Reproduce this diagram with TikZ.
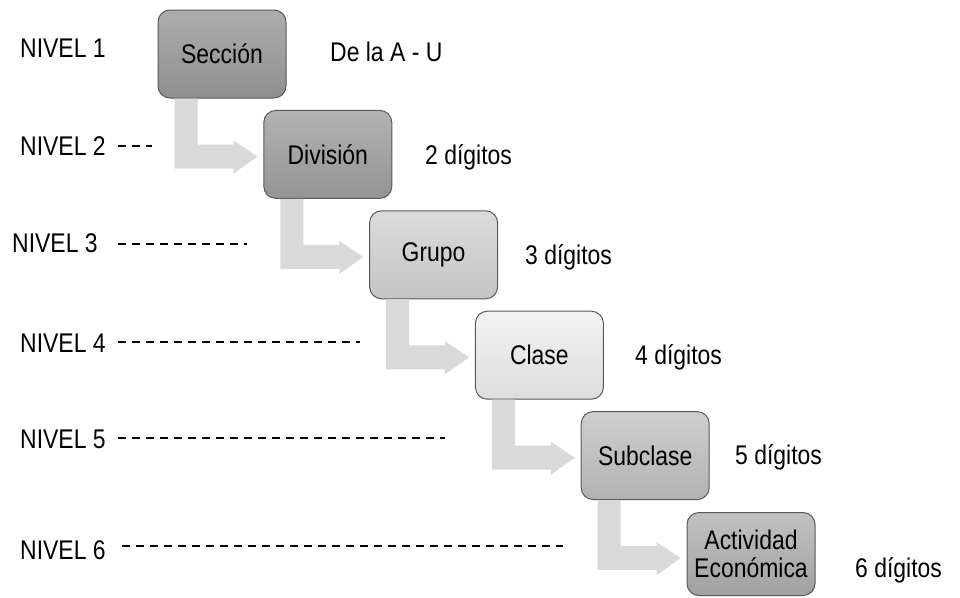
\documentclass[tikz,border=0pt]{standalone}
\usepackage{fontspec}
\setmainfont{Liberation Sans}[FakeStretch=0.85]
\begin{document}
\begin{tikzpicture}[x=1pt,y=-1pt,
  caja/.style={draw=black!65, line width=1pt, rounded corners=12pt, minimum width=128pt, minimum height=88pt, inner sep=0pt, align=center, font=\fontsize{27}{28}\selectfont},
  flecha/.style={fill=black!15},
  etiq/.style={anchor=west, inner sep=0pt, font=\fontsize{27}{28}\selectfont},
  raya/.style={dash pattern=on 8pt off 6pt, line width=1.3pt}]
\useasboundingbox (0,0) rectangle (960,597);
% cajas
\node[caja, top color=black!32, bottom color=black!44] (sec) at (222,54){Sección};
\node[caja, top color=black!30, bottom color=black!42] (div) at (327.8,154.4){División};
\node[caja, top color=black!14, bottom color=black!23] (gru) at (433.6,254.8){Grupo};
\node[caja, top color=black!5, bottom color=black!13] (cla) at (539.4,355.2){Clase};
\node[caja, top color=black!19, bottom color=black!30] (sub) at (645.2,455.6){Subclase};
\node[caja, minimum height=83pt, top color=black!24, bottom color=black!37] (act) at (751,554){Actividad\\Económica};
% flechas
\fill[flecha] ([xshift=17pt]sec.south west) -- ++(23,0) -- ++(0,46) -- ++(36,0) -- ++(0,-4) -- ++(24,16) -- ++(-24,17) -- ++(0,-5) -- ++(-59,0) -- cycle;
\fill[flecha] ([xshift=17pt]div.south west) -- ++(23,0) -- ++(0,46) -- ++(36,0) -- ++(0,-4) -- ++(24,16) -- ++(-24,17) -- ++(0,-5) -- ++(-59,0) -- cycle;
\fill[flecha] ([xshift=17pt]gru.south west) -- ++(23,0) -- ++(0,46) -- ++(36,0) -- ++(0,-4) -- ++(24,16) -- ++(-24,17) -- ++(0,-5) -- ++(-59,0) -- cycle;
\fill[flecha] ([xshift=17pt]cla.south west) -- ++(23,0) -- ++(0,46) -- ++(36,0) -- ++(0,-4) -- ++(24,16) -- ++(-24,17) -- ++(0,-5) -- ++(-59,0) -- cycle;
\fill[flecha] ([xshift=17pt]sub.south west) -- ++(23,0) -- ++(0,46) -- ++(36,0) -- ++(0,-4) -- ++(24,16) -- ++(-24,17) -- ++(0,-5) -- ++(-59,0) -- cycle;
% niveles
\node[etiq] (niv1) at (20,48){NIVEL 1};
\node[etiq] (niv2) at (20,146){NIVEL 2};
\node[etiq] (niv3) at (12,243){NIVEL 3};
\node[etiq] (niv4) at (20,343){NIVEL 4};
\node[etiq] (niv5) at (20,439){NIVEL 5};
\node[etiq] (niv6) at (20,550){NIVEL 6};
\coordinate (ini2) at (118,146);
\coordinate (ini3) at (118,244);
\coordinate (ini4) at (118,342);
\coordinate (ini5) at (118,438);
\coordinate (ini6) at (122,546);
\coordinate (fin2) at (152,146);
\coordinate (fin3) at (247,244);
\coordinate (fin4) at (360,342);
\coordinate (fin5) at (445,438);
\coordinate (fin6) at (563,546);
\draw[raya] (ini2) -- (fin2);
\draw[raya] (ini3) -- (fin3);
\draw[raya] (ini4) -- (fin4);
\draw[raya] (ini5) -- (fin5);
\draw[raya] (ini6) -- (fin6);
% digitos
\node[etiq] (dig1) at (330,52){De la A - U};
\node[etiq] (dig2) at (425,157){2 dígitos};
\node[etiq] (dig3) at (525,257){3 dígitos};
\node[etiq] (dig4) at (635,357){4 dígitos};
\node[etiq] (dig5) at (735,457){5 dígitos};
\node[etiq] (dig6) at (855,570){6 dígitos};

\end{tikzpicture}
\end{document}
